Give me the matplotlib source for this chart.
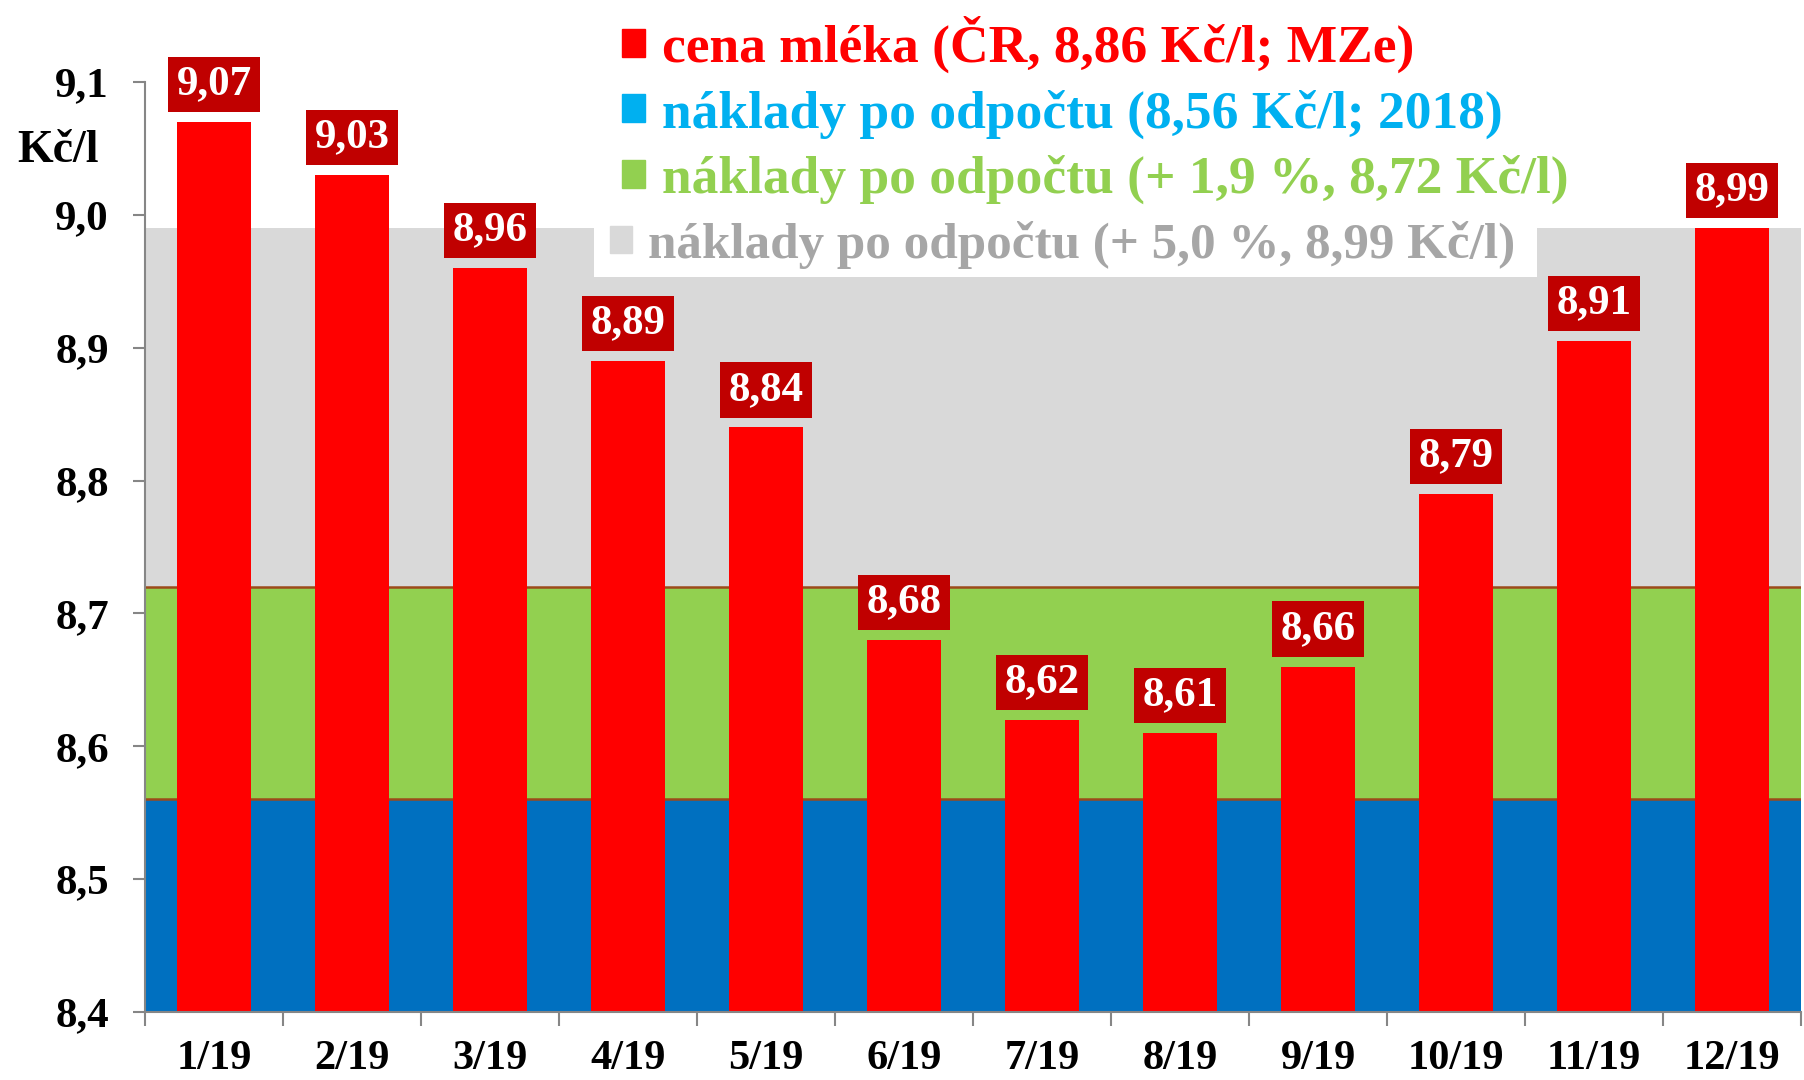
import numpy as np
import matplotlib
matplotlib.use("Agg")
from matplotlib import pyplot as plt
from matplotlib.patches import Patch, Rectangle

plt.rcParams["font.family"] = ["Liberation Serif", "DejaVu Serif"]
plt.rcParams["font.weight"] = "bold"

# Monthly milk price 2019 and cost levels (Kč/l)
months = ["1/19", "2/19", "3/19", "4/19", "5/19", "6/19",
          "7/19", "8/19", "9/19", "10/19", "11/19", "12/19"]
price = [9.07, 9.03, 8.96, 8.89, 8.84, 8.68, 8.62, 8.61, 8.66, 8.79, 8.905, 8.99]
price_labels = ["9,07", "9,03", "8,96", "8,89", "8,84", "8,68",
                "8,62", "8,61", "8,66", "8,79", "8,91", "8,99"]
cost_base = 8.56
cost_19 = 8.72
cost_50 = 8.99
y_min, y_max = 8.4, 9.1
y_ticks = [8.4, 8.5, 8.6, 8.7, 8.8, 8.9, 9.0, 9.1]
legend_labels = ["cena mléka (ČR, 8,86 Kč/l; MZe)",
                 "náklady po odpočtu (8,56 Kč/l; 2018)",
                 "náklady po odpočtu (+ 1,9 %, 8,72 Kč/l)",
                 "náklady po odpočtu (+ 5,0 %, 8,99 Kč/l)"]

RED = "#FF0000"
LABEL_BG = "#C00000"
BLUE = "#0070C0"
CYAN = "#00B0F0"
GREEN = "#92D050"
GREY = "#D9D9D9"
GREY_TXT = "#A6A6A6"
BROWN = "#9C4A1A"
AXIS = "#868686"

fig = plt.figure(figsize=(18.04, 10.80), dpi=100)
ax = fig.add_axes([145 / 1804, 1 - 1012 / 1080, 1656 / 1804, 930 / 1080])

x = np.arange(len(months))
n = len(months)

# cost bands behind the price bars
ax.bar(x, [cost_base - y_min] * n, bottom=y_min, width=1.0, color=BLUE, lw=0, zorder=1)
ax.bar(x, [cost_19 - cost_base] * n, bottom=cost_base, width=1.0, color=GREEN, lw=0, zorder=1)
ax.bar(x, [cost_50 - cost_19] * n, bottom=cost_19, width=1.0, color=GREY, lw=0, zorder=1)
ax.hlines([y_min, cost_base, cost_19], -0.5, n - 0.5, colors=BROWN, lw=1.8, zorder=1.2)

bars = ax.bar(x, np.array(price) - y_min, bottom=y_min, width=0.53, color=RED, lw=0, zorder=2)

for xi, val, lab in zip(x, price, price_labels):
    ax.annotate(lab, xy=(xi, val), xytext=(0, 27), textcoords="offset points",
                ha="center", va="center", fontsize=31, color="white", fontweight="bold",
                bbox=dict(boxstyle="square,pad=0.2", fc=LABEL_BG, ec="none"),
                zorder=5, annotation_clip=False)

ax.set_xlim(-0.5, n - 0.5)
ax.set_ylim(y_min, y_max)

ax.set_yticks(y_ticks)
ax.set_yticklabels(["{:.1f}".format(t).replace(".", ",") for t in y_ticks])
ax.tick_params(axis="y", length=9, width=1.5, color=AXIS, pad=17, labelsize=31)

ax.set_xticks(np.arange(n + 1) - 0.5)
ax.set_xticklabels([])
ax.set_xticks(x, minor=True)
ax.set_xticklabels(months, minor=True)
ax.tick_params(axis="x", which="major", length=10, width=1.5, color=AXIS)
ax.tick_params(axis="x", which="minor", length=0, pad=20, labelsize=30.5)

for side in ["top", "right"]:
    ax.spines[side].set_visible(False)
for side in ["left", "bottom"]:
    ax.spines[side].set_color(AXIS)
    ax.spines[side].set_linewidth(1.5)
    ax.spines[side].set_zorder(3)

ax.annotate("Kč/l", xy=(0, 9.05), xycoords=("axes fraction", "data"),
            xytext=(-33, -2), textcoords="offset points",
            ha="right", va="center", fontsize=33, fontweight="bold", annotation_clip=False)

# white strip under the last legend row
ax.add_patch(Rectangle((594 / 1804, 1 - 277 / 1080), 943 / 1804, 64 / 1080,
                       transform=fig.transFigure, facecolor="white", edgecolor="none",
                       zorder=1.5, clip_on=False))

handles = [Patch(color=RED), Patch(color=CYAN), Patch(color=GREEN), Patch(color=GREY)]
leg_kw = dict(loc="upper left", bbox_transform=fig.transFigure, frameon=False,
              handlelength=0.43, handleheight=0.43, handletextpad=0.32,
              labelspacing=0.3, borderpad=0, borderaxespad=0)

leg = ax.legend(handles[:3], legend_labels[:3], bbox_to_anchor=(622 / 1804, 1 - 16 / 1080),
                labelcolor=[RED, CYAN, GREEN],
                prop={"family": ["Liberation Serif"], "weight": "bold", "size": 38.5}, **leg_kw)
leg.set_zorder(6)

# last row sits a little further left and smaller
leg2 = ax.legend(handles[3:], legend_labels[3:], bbox_to_anchor=(610 / 1804, 1 - 221 / 1080),
                 labelcolor=[GREY_TXT],
                 prop={"family": ["Liberation Serif"], "weight": "bold", "size": 36.8}, **leg_kw)
leg2.set_zorder(6)
ax.add_artist(leg)

fig.savefig("out.png", dpi=100)
